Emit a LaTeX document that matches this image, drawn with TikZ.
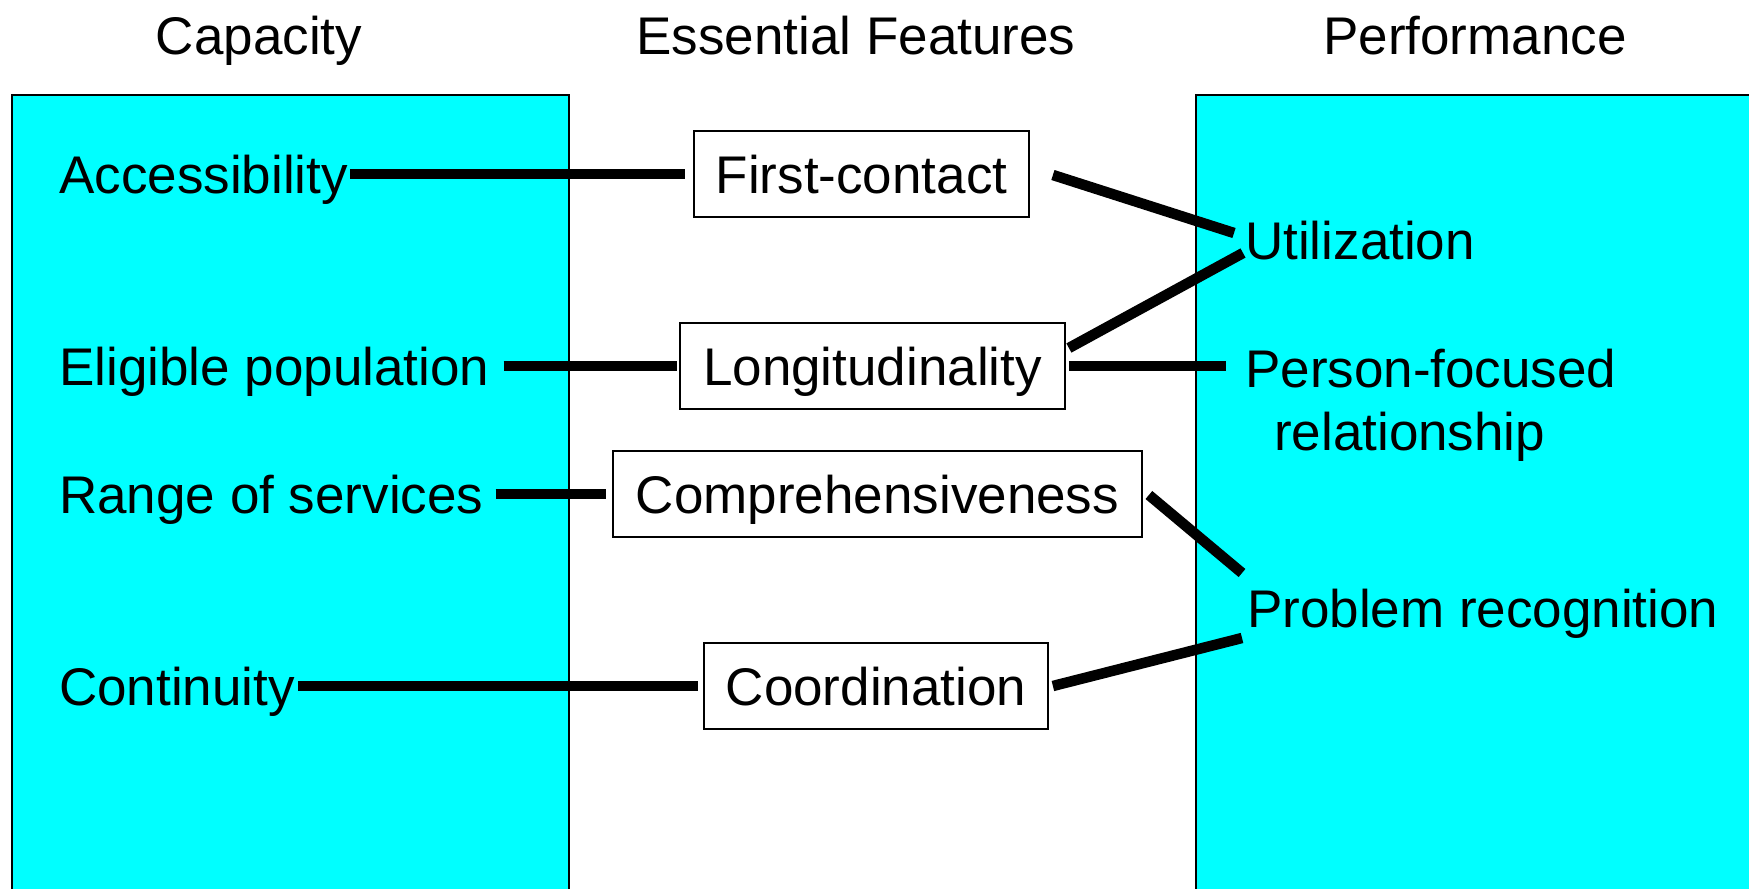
\documentclass[tikz,border=0pt]{standalone}
\usepackage{fontspec}
\setmainfont{Liberation Sans}
\usetikzlibrary{calc}
\definecolor{cy}{RGB}{0,255,255}
\begin{document}
\begin{tikzpicture}[x=1pt,y=-1pt,
  every node/.style={font=\fontsize{53}{63}\selectfont, inner sep=0pt, text height=38pt, text depth=0pt},
  lbl/.style={anchor=west},
  ttl/.style={anchor=center},
  feat/.style={draw=black, fill=white, line width=1.8pt, minimum height=86pt, anchor=center},
  conn/.style={line width=10.5pt},
  panel/.style={fill=cy, draw=black, line width=2pt}]
\useasboundingbox (0,0) rectangle (1749,889);
\clip (0,0) rectangle (1749,889);
\draw[panel] (11.5,95) rectangle (569,950);
\draw[panel] (1196,95) rectangle (1800,950);

\node[ttl] (tcap) at (259,35) {Capacity};
\node[ttl] (tess) at (856,35) {Essential Features};
\node[ttl] (tperf) at (1475,35) {Performance};

\node[lbl] (acc) at (59,174) {Accessibility};
\node[lbl] (eli) at (59,366) {Eligible population};
\node[lbl] (ran) at (59,494) {Range of services};
\node[lbl] (con) at (59,686) {Continuity};

\node[feat, minimum width=335pt] (fc) at (861.5,174) {First-contact};
\node[feat, minimum width=385pt] (lon) at (872.5,366) {Longitudinality};
\node[feat, minimum width=529pt] (com) at (877.5,494) {Comprehensiveness};
\node[feat, minimum width=344pt] (coo) at (876,686) {Coordination};

\node[lbl] (util) at (1245,240) {Utilization};
\node[lbl] (pers) at (1245,368) {Person-focused};
\node[lbl] (rel) at (1274,431) {relationship};
\node[lbl] (prob) at (1247,608) {Problem recognition};

\draw[conn, shorten <=2pt, shorten >=8pt] (acc.east) -- (fc.west);
\draw[conn] ($(fc.east)+(23,1)$) -- ($(util.west)+(-11,-7)$);
\draw[conn, shorten <=14pt, shorten >=2pt] (eli.east) -- (lon.west);
\draw[conn] ($(lon.east)+(3,-18)$) -- ($(util.west)+(-2,13)$);
\draw[conn] ($(lon.east)+(3,0)$) -- ($(pers.west)+(-19,-2)$);
\draw[conn, shorten <=12pt, shorten >=6pt] (ran.east) -- (com.west);
\draw[conn] ($(com.east)+(6,1)$) -- ($(prob.west)+(-5,-35)$);
\draw[conn, shorten <=3pt, shorten >=5pt] (con.east) -- (coo.west);
\draw[conn] ($(coo.east)+(4,0)$) -- ($(prob.west)+(-5,30)$);
\end{tikzpicture}
\end{document}
